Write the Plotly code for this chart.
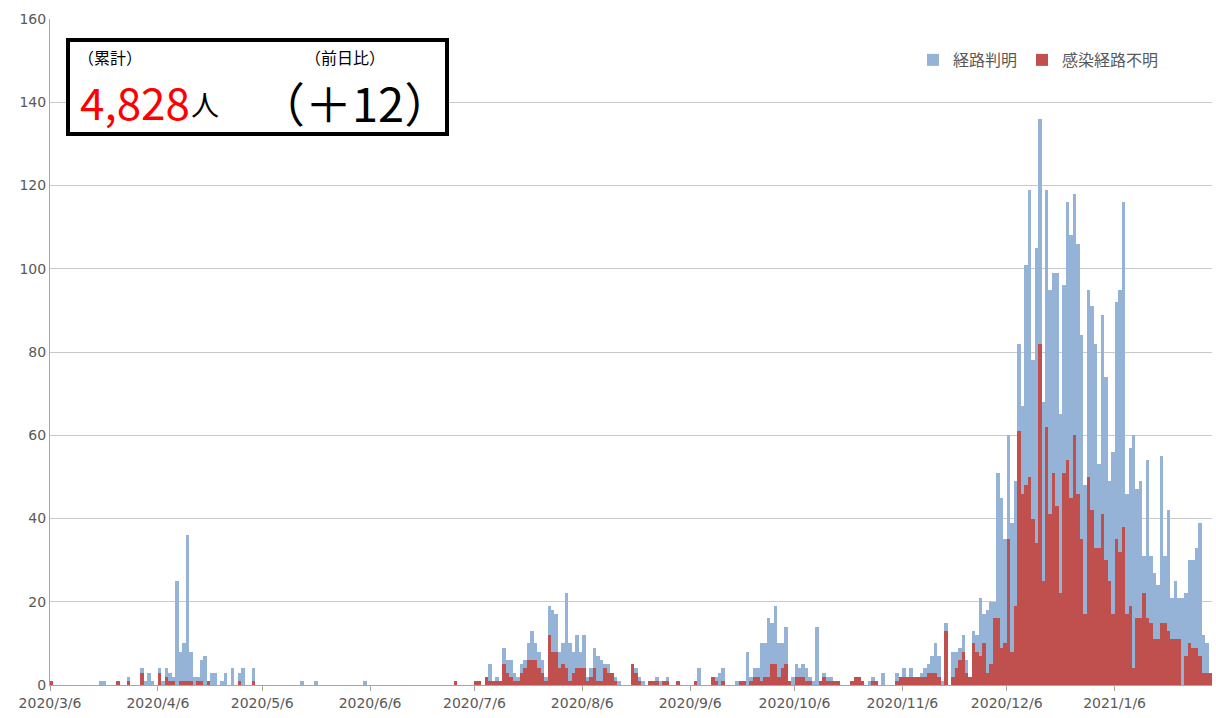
import pandas as pd
import plotly.graph_objects as go

# ---------------- data ----------------
start_date = "2020-03-06"
n_days = 334  # 2020-03-06 .. 2021-02-02

# 感染経路不明 (unknown route) – daily counts, one row per month span (6th..5th)
unknown = (
    [1,0,0,0,0,0,0,0,0,0, 0,0,0,0,0,0,0,0,0,1, 0,0,1,0,0,0,3,0,0,0, 0]          # 3/6-4/5
    + [3,0,2,1,1,0,1,1,1,1, 0,1,1,0,1,0,0,0,0,0, 0,0,0,1,0,0,0,1,0,0]         # 4/6-5/5
    + [0]*31                                                                    # 5/6-6/5
    + [0,0,0,0,0,0,0,0,0,0, 0,0,0,0,0,0,0,0,0,0, 0,0,0,0,1,0,0,0,0,0]         # 6/6-7/5
    + [1,1,0,2,1,1,1,1,5,3, 2,1,1,3,4,6,6,6,4,3, 1,12,8,8,4,5,4,1,3,4, 4]     # 7/6-8/5
    + [4,1,2,4,1,1,4,3,3,1, 0,0,0,0,5,3,1,0,0,1, 1,1,0,1,1,0,0,1,0,0, 0]      # 8/6-9/5
    + [0,1,0,0,0,0,2,1,0,1, 0,0,0,0,1,1,0,1,2,2, 1,2,2,5,5,2,4,5,1,0]         # 9/6-10/5
    + [2,2,2,1,1,0,0,1,2,1, 1,1,1,0,0,0,1,2,2,1, 0,0,1,1,0,0,0,0,0,1, 2]      # 10/6-11/5
    + [2,2,2,2,2,2,2,3,3,3, 2,0,13,0,2,4,6,8,3,2, 10,8,7,10,3,5,16,16,9,10]   # 11/6-12/5
    + [35,8,19,61,46,48,50,40,34,82, 25,62,41,51,43,22,51,54,45,60,
       46,35,17,50,42,33,33,41,30,25, 17]                                       # 12/6-1/5
    + [35,32,38,17,19,4,16,16,22,16, 15,11,11,15,15,13,11,11,11,0,
       7,10,9,9,7,3,3,3]                                                        # 1/6-2/2
)

# 経路判明 (known route) – daily counts
known = (
    [0,0,0,0,0,0,0,0,0,0, 0,0,0,0,1,1,0,0,0,0, 0,0,1,0,0,0,1,1,3,1, 0]          # 3/6-4/5
    + [1,1,2,2,1,25,7,9,35,7, 2,1,5,7,0,3,3,0,1,3, 0,4,0,2,4,0,0,3,0,0]       # 4/6-5/5
    + [0,0,0,0,0,0,0,0,0,0, 0,1,0,0,0,1,0,0,0,0, 0,0,0,0,0,0,0,0,0,1, 0]      # 5/6-6/5
    + [0]*30                                                                    # 6/6-7/5
    + [0,0,0,0,4,0,1,0,4,3, 4,2,1,2,2,4,7,4,4,3, 1,7,10,9,4,5,18,9,5,8, 4]    # 7/6-8/5
    + [8,1,2,5,6,5,1,2,0,1, 1,0,0,0,0,1,1,1,0,0, 0,1,1,0,1,0,0,0,0,0, 0]      # 8/6-9/5
    + [0,0,4,0,0,0,0,1,3,3, 0,0,0,1,0,0,8,1,2,2, 9,8,14,10,14,8,6,9,0,2]      # 9/6-10/5
    + [3,2,3,3,1,1,14,0,1,1, 1,0,0,0,0,0,0,0,0,0, 0,1,1,0,0,3,0,0,0,2, 0]     # 10/6-11/5
    + [2,0,2,0,0,1,2,2,4,7, 5,1,2,0,6,4,3,4,3,0, 3,4,14,7,15,15,4,35,36,25]   # 11/6-12/5
    + [25,31,30,21,21,53,69,38,71,54, 43,57,54,48,56,43,45,62,63,58,
       60,49,31,45,49,49,20,48,44,24, 39]                                       # 12/6-1/5
    + [57,63,78,29,38,56,31,33,9,38, 16,16,13,40,16,29,10,14,10,21,
       15,20,21,24,32,9,7,0]                                                    # 1/6-2/2
)

tick_dates = ["2020-03-06", "2020-04-06", "2020-05-06", "2020-06-06", "2020-07-06",
              "2020-08-06", "2020-09-06", "2020-10-06", "2020-11-06", "2020-12-06",
              "2021-01-06"]
tick_labels = ["2020/3/6", "2020/4/6", "2020/5/6", "2020/6/6", "2020/7/6",
               "2020/8/6", "2020/9/6", "2020/10/6", "2020/11/6", "2020/12/6",
               "2021/1/6"]

name_known = "経路判明"
name_unknown = "感染経路不明"
total_label = "4,828"
total_unit = "人"
diff_label = "（＋12）"
title_total = "（累計）"
title_diff = "（前日比）"

# ---------------- figure ----------------
assert len(unknown) == n_days and len(known) == n_days
dates = pd.date_range(start_date, periods=n_days, freq="D") + pd.Timedelta(hours=12)
day_ms = 86400000

W, H = 1216, 718
ML, MR, MT, MB = 50, 4, 19, 33
PW, PH = W - ML - MR, H - MT - MB


def px(x):
    return (x - ML) / PW


def py(y):
    return (H - MB - y) / PH


BLUE = "#95B3D7"
RED = "#C0504D"
GREY_TXT = "#595959"
JP = "Noto Sans CJK JP"

fig = go.Figure()
fig.add_trace(go.Bar(x=dates, y=unknown, name=name_unknown, marker_color=RED,
                     marker_line_width=0, width=day_ms, legendrank=2))
fig.add_trace(go.Bar(x=dates, y=known, name=name_known, marker_color=BLUE,
                     marker_line_width=0, width=day_ms, legendrank=1))

fig.update_layout(
    width=W, height=H,
    margin=dict(l=ML, r=MR, t=MT, b=MB),
    barmode="stack",
    plot_bgcolor="white", paper_bgcolor="white",
    font=dict(family="DejaVu Sans", size=14, color=GREY_TXT),
    legend=dict(orientation="h", x=px(913), y=py(60), xanchor="left", yanchor="middle",
                font=dict(family=JP, size=16, color=GREY_TXT), itemwidth=30,
                bgcolor="rgba(0,0,0,0)", traceorder="normal"),
    xaxis=dict(type="date", range=[start_date, "2021-02-03"],
               tickvals=tick_dates, ticktext=tick_labels,
               showgrid=False, showline=True, linecolor="#A6A6A6", linewidth=1,
               ticks="outside", ticklen=5, tickcolor="#A6A6A6",
               tickfont=dict(family="DejaVu Sans", size=14, color=GREY_TXT)),
    yaxis=dict(range=[0, 160], dtick=20, showgrid=True, gridcolor="#C8C8C8", gridwidth=1,
               showline=True, linecolor="#A6A6A6", linewidth=1, zeroline=False,
               ticks="", tickfont=dict(family="DejaVu Sans", size=14, color=GREY_TXT)),
)

# summary box
fig.add_shape(type="rect", xref="paper", yref="paper",
              x0=px(68), x1=px(447), y0=py(134), y1=py(40),
              line=dict(color="black", width=4), fillcolor="white", layer="above")

ann = dict(xref="paper", yref="paper", showarrow=False, xanchor="left", yanchor="middle")
fig.add_annotation(text=title_total, x=px(76), y=py(57),
                   font=dict(family=JP, size=16, color="black"), **ann)
fig.add_annotation(text=title_diff, x=px(303), y=py(57),
                   font=dict(family=JP, size=16, color="black"), **ann)
fig.add_annotation(text=total_label, x=px(78), y=py(101),
                   font=dict(family=JP, size=44, color="#FF0000"), **ann)
fig.add_annotation(text=total_unit, x=px(189), y=py(104),
                   font=dict(family=JP, size=28, color="black"), **ann)
fig.add_annotation(text=diff_label, x=px(256), y=py(101),
                   font=dict(family=JP, size=47, color="black"), **ann)

fig.write_html("out.html", config={"displayModeBar": False},
               post_script="document.body.style.margin='0';")
